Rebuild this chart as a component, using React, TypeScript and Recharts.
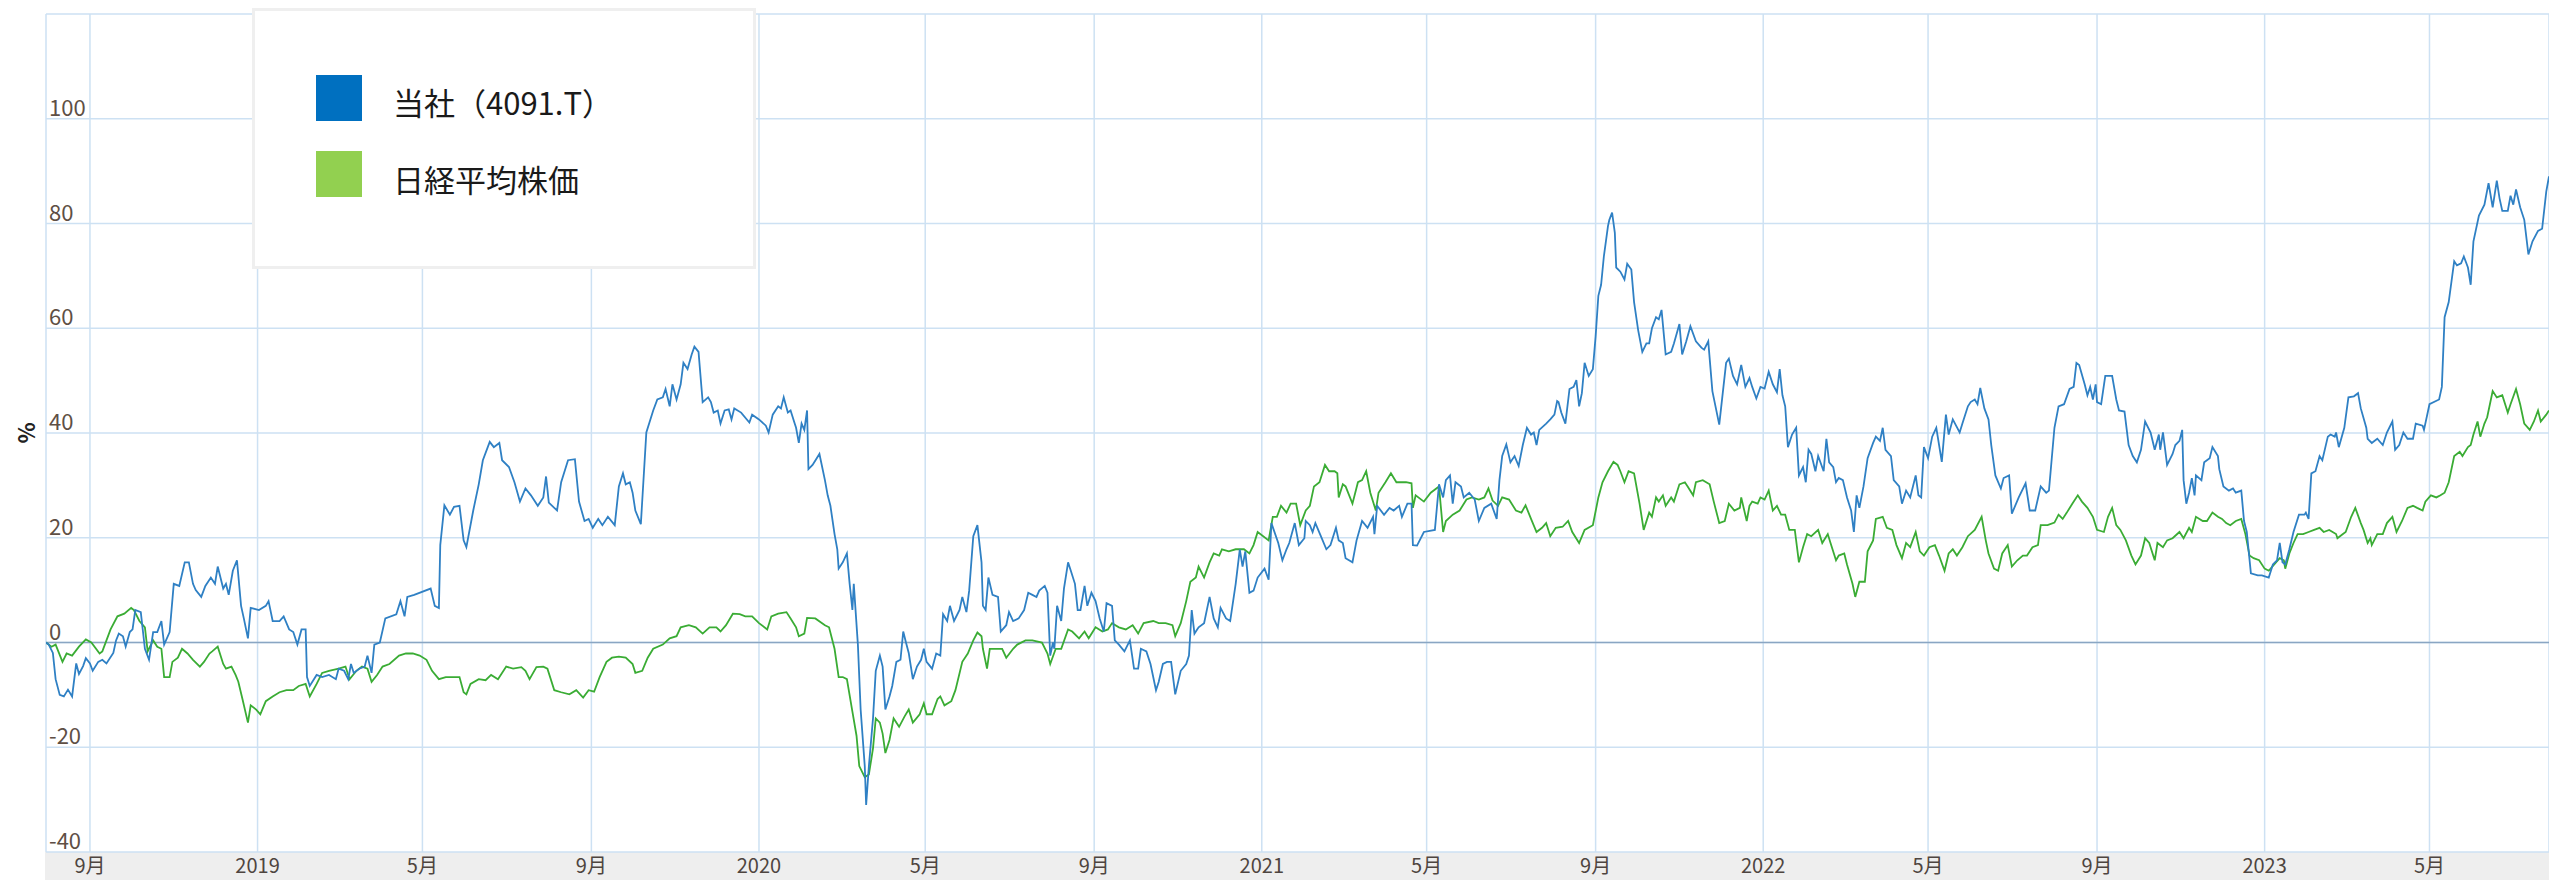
import {
  LineChart,
  Line,
  XAxis,
  YAxis,
  CartesianGrid,
  ReferenceLine,
  Legend,
} from "recharts";

// days counted from 2018-07-31, value = % change
const EPOCH = Date.UTC(2018, 6, 31);
const DAY = 86400000;
const LAST_DAY = 1822;

const company: [number, number][] = [
  [0, 0], [2, -0.4], [5, -2], [7, -7], [10, -10], [13, -10.3], [16, -9], [19, -10.3], [22, -4], [24, -6],
  [27, -4.5], [29, -3], [32, -4], [34, -5.4], [38, -3.7], [41, -3.3], [44, -4], [49, -2], [51, 0.4], [53, 1.7],
  [56, 1.2], [58, -0.8], [61, 2], [63, 2.5], [65, 6.2], [69, 5.8], [72, -1.2], [75, -3.3], [78, 2], [81, 2],
  [84, 4.1], [86, -0.4], [90, 2], [93, 11.2], [97, 10.8], [101, 15.3], [104, 15.3], [107, 11.2], [109, 10], [113, 8.7],
  [116, 10.8], [120, 12.4], [123, 11.2], [125, 14.5], [129, 10.3], [131, 11.2], [133, 9.1], [136, 13.7], [139, 15.7], [142, 7],
  [144, 4.6], [147, 0.8], [149, 6.6], [155, 6.2], [160, 7], [162, 7.9], [165, 4.1], [170, 4.1], [173, 5], [177, 2.5],
  [180, 2], [183, -0.4], [186, 2.5], [189, 2.5], [190, -6.6], [192, -8.3], [197, -6.2], [201, -6.6], [206, -6.2], [211, -7],
  [213, -5], [217, -5.4], [220, -7], [222, -4.1], [224, -5.8], [228, -5], [232, -4.6], [234, -2.5], [237, -5.8], [239, -0.4],
  [243, 0], [247, 4.6], [255, 5.4], [258, 7.9], [261, 5], [263, 8.7], [268, 9.1], [280, 10.3], [283, 7], [286, 6.6],
  [287, 18.6], [290, 26.2], [294, 24.4], [297, 25.9], [301, 26.1], [304, 19.5],
  [306, 18.2], [311, 25.2], [315, 30.2], [318, 34.8], [323, 38.3], [326, 37.3], [330, 38.1], [332, 34.8], [337, 33.5], [341, 30.6],
  [345, 26.9], [349, 29.4], [353, 28.1], [358, 26.1], [362, 27.7], [364, 31.7], [366, 26.7], [370, 25.7], [372, 25.2], [375, 30.6],
  [380, 34.8], [385, 35], [388, 26.9], [392, 23.2], [395, 23.6], [398, 21.9], [402, 23.6], [405, 22.4], [409, 24], [414, 22.4],
  [417, 29.8], [420, 32.3], [422, 30.2], [425, 30.6], [427, 28.6], [429, 25.2], [433, 22.6], [437, 40.1], [442, 44.3], [445, 46.4],
  [449, 46.8], [451, 48.4], [454, 45.1], [456, 49.3], [459, 46.4], [462, 49.3], [464, 53.4], [467, 52.2], [470, 55], [472, 56.5],
  [475, 55.5], [478, 45.9], [482, 46.8], [484, 45.9], [486, 43.9], [489, 44.3], [491, 41.8], [494, 44.3], [497, 44.5], [499, 42.6],
  [501, 44.7], [506, 43.9], [512, 42], [514, 43.5], [519, 42.6], [524, 41.4], [526, 40.1], [529, 43.5], [533, 45.1], [535, 44.7],
  [537, 46.8], [540, 43.9], [542, 44.3], [545, 41.8], [546, 41], [548, 38.1], [550, 41.8], [552, 40.6], [554, 44.3], [555, 33.1],
  [558, 33.9], [563, 36], [567, 31], [569, 28.1], [571, 26.1], [574, 20.7], [576, 17.8], [577, 14.1], [580, 15.3], [583, 17],
  [585, 11.2], [587, 6.2], [588, 11.2], [591, -0.4], [593, -12.8], [596, -23.6], [597, -31], [599, -23.6], [602, -14.5], [604, -5.4],
  [607, -2.5], [609, -4.6], [611, -12.8],
  [614, -10.3], [616, -8.3], [619, -3.7], [622, -3.3], [624, 2.1], [626, 0], [628, -2], [631, -7], [634, -4.6], [637, -3.3],
  [639, -1.2], [641, -3.7], [645, -5], [648, -2.1], [651, -2.5], [653, 5.4], [656, 4.1], [658, 7], [661, 4.1], [665, 6.2],
  [667, 8.7], [670, 5.8], [672, 9.9], [675, 20.3], [678, 22.4], [681, 15.3], [682, 7], [684, 6.2], [686, 12.4], [689, 9.1],
  [693, 8.7], [695, 2.1], [699, 3.3], [701, 5.8], [704, 4.1], [708, 4.6], [712, 6.2], [715, 9.5], [718, 9.1], [721, 8.7],
  [723, 9.9], [727, 10.8], [729, 9.5], [731, -2.5], [733, 0], [734, -1.2], [736, 7], [739, 4.1], [741, 10.3], [744, 15.3],
  [746, 13.7], [749, 11.2], [751, 6.2], [753, 6.2], [756, 10.8], [758, 7], [761, 9.5], [764, 7.9], [767, 4.6], [770, 2.1],
  [772, 7.5], [776, 7], [778, 0.4], [781, -0.4], [785, -1.7], [789, 0.4], [792, -5], [795, -5], [797, -1.2], [801, -1.7],
  [804, -4.1], [808, -9.1], [810, -7.5], [813, -4.1], [816, -3.7], [819, -3.7], [822, -9.9], [826, -5.4], [830, -4.1], [832, -2.5],
  [834, 6.2], [836, 1.7], [839, 2.9], [843, 3.7], [847, 8.7], [850, 4.6], [853, 2.9], [855, 6.6], [859, 4.6], [862, 4.1],
  [866, 11.2], [869, 17.8], [871, 14.5], [873, 17.4], [876, 9.5], [879, 9.9], [882, 12.4], [887, 14.1], [890, 12], [892, 22.8],
  [897, 19], [900, 15.7], [903, 17.8], [905, 19], [909, 22.8], [912, 18.6], [916, 19.9],
  [917, 23.2], [920, 22.4], [922, 21.1], [924, 22.8], [928, 20.3], [932, 17.8], [935, 18.6], [939, 21.9], [941, 19.5], [944, 19],
  [946, 16.1], [951, 15.3], [954, 19.5], [958, 23.2], [962, 21.9], [966, 24], [967, 20.7], [969, 26.1], [974, 24.4], [978, 25.7],
  [981, 25.2], [985, 26.1], [987, 24], [991, 26.5], [994, 26.5], [995, 18.6], [998, 18.5], [1003, 21.1], [1011, 21.5], [1014, 30.2],
  [1017, 27.7], [1019, 31], [1022, 31.9], [1024, 26.5], [1026, 30.6], [1030, 29.8], [1032, 27.7], [1036, 28.6], [1040, 27.3], [1043, 23.2],
  [1047, 25.7], [1052, 26.5], [1056, 23.6], [1058, 31], [1060, 35.6], [1063, 37.8], [1066, 34.4], [1069, 35.6], [1072, 33.7], [1075, 37.7],
  [1078, 41], [1081, 39.7], [1083, 40.1], [1085, 37.7], [1087, 40.6], [1092, 41.8], [1095, 42.6], [1098, 43.5], [1100, 46.1], [1101, 45.9],
  [1103, 43.9], [1106, 41.8], [1109, 48.4], [1112, 48.8], [1114, 50.1], [1116, 45.1], [1118, 47.6], [1120, 53.4], [1123, 50.9], [1126, 52.2],
  [1128, 58.4], [1130, 66.2], [1132, 68.3], [1134, 73.7], [1137, 79.5], [1138, 80.7], [1140, 82.1], [1142, 78.2], [1143, 71.6], [1146, 70.8],
  [1149, 69.3], [1151, 72.3], [1154, 71.2], [1156, 65], [1159, 59.6], [1162, 55.5], [1165, 57.1], [1167, 57.1], [1169, 60], [1172, 62.1],
  [1174, 61.7], [1176, 63.5], [1179, 55], [1183, 55.5], [1185, 57.1], [1189, 60.8], [1191, 55], [1194, 57.5], [1197, 60.4], [1201, 57.5],
  [1205, 56.3], [1207, 55.9], [1210, 57.5], [1213, 48], [1218, 41.6],
  [1223, 53.4], [1225, 54.2], [1228, 50.9], [1231, 49.3], [1234, 53], [1237, 48.8], [1240, 50.5], [1242, 48.8], [1245, 46.6], [1248, 48.8],
  [1251, 48.5], [1254, 51.7], [1257, 49.3], [1260, 47.8], [1262, 52.2], [1264, 47.2], [1266, 45.1], [1268, 37.3], [1271, 39.7], [1274, 41],
  [1276, 31.9], [1279, 33.5], [1281, 30.6], [1283, 36.8], [1285, 36], [1288, 32.7], [1290, 35.6], [1294, 32.7], [1296, 38.9], [1298, 34.4],
  [1301, 33.5], [1303, 30.6], [1305, 31.4], [1308, 31], [1311, 27.7], [1314, 25.2], [1316, 21.1], [1318, 28.1], [1320, 25.7], [1323, 29.8],
  [1326, 35.2], [1330, 38.1], [1332, 39.3], [1335, 38.5], [1337, 41], [1339, 36.8], [1343, 35.6], [1345, 31], [1349, 29.8], [1351, 26.5],
  [1354, 29], [1357, 27.7], [1361, 31.9], [1363, 28.1], [1365, 27.7], [1367, 37.3], [1370, 35.2], [1373, 39.3], [1376, 41], [1380, 34.5],
  [1383, 43.5], [1385, 39.7], [1388, 42.6], [1393, 40.1], [1395, 41.8], [1399, 45.1], [1401, 45.9], [1404, 46.4], [1406, 45.5], [1408, 48.6],
  [1411, 44.7], [1414, 42.6], [1416, 37.7], [1419, 31.9], [1423, 29.4], [1425, 31.4], [1429, 31.9], [1431, 24.6], [1436, 27.7], [1441, 30.4],
  [1444, 25.2], [1448, 25.2], [1452, 29.8], [1456, 28.6], [1458, 29], [1462, 41], [1465, 45.1], [1469, 45.5], [1473, 48.4], [1476, 48.8],
  [1478, 53.4], [1480, 53], [1484, 49.3], [1486, 47.2], [1488, 48.8], [1490, 46.4], [1492, 49.3], [1493, 45.9], [1496, 45.5], [1499, 50.9],
  [1504, 50.9], [1507, 46.4], [1509, 44.3], [1513, 44.1], [1516, 37.7], [1519, 35.6], [1522, 34.4], [1525, 36.8], [1528, 42.2],
  [1532, 40.1], [1535, 36.8], [1538, 39.7], [1539, 36.8], [1541, 40.1], [1544, 33.9], [1548, 36], [1550, 37.7], [1553, 38.5], [1555, 40.6],
  [1556, 31], [1558, 26.5], [1560, 28.6], [1562, 31.4], [1564, 28.1], [1565, 31.9], [1569, 31], [1571, 34.4], [1575, 35.2], [1577, 37.3],
  [1581, 35.6], [1582, 33.1], [1585, 29.8], [1589, 29], [1592, 29.4], [1594, 28.6], [1598, 29], [1600, 23.2], [1602, 21.1], [1605, 13.2],
  [1610, 12.8], [1613, 12.8], [1618, 12.4], [1621, 14.9], [1624, 15.7], [1626, 19], [1628, 15.3], [1630, 14.9], [1633, 17.8], [1636, 21.1],
  [1640, 24.4], [1644, 24.4], [1645, 24.8], [1647, 23.6], [1649, 32.3], [1652, 32.7], [1655, 35.6], [1657, 34.8], [1661, 39.3], [1663, 39.7],
  [1666, 39.3], [1667, 40.1], [1669, 37.3], [1673, 41], [1676, 46.8], [1680, 47], [1683, 47.6], [1685, 44.7], [1689, 41], [1690, 38.9],
  [1693, 38.1], [1697, 38.9], [1701, 37.7], [1704, 40.1], [1708, 42.2], [1710, 36.8], [1713, 37.7], [1716, 40.1], [1719, 38.9], [1723, 38.9],
  [1725, 41.8], [1730, 41.4], [1731, 40.6], [1735, 45.5], [1742, 46.4], [1744, 48.8], [1746, 62.1], [1749, 65], [1753, 72.8], [1755, 72],
  [1758, 72.4], [1760, 73.7], [1763, 71.6], [1765, 68.3], [1767, 76.6], [1771, 81.5], [1775, 83.6], [1778, 87.7], [1781, 83.1], [1784, 88.2],
  [1786, 84.8], [1788, 82.4], [1792, 82.4], [1794, 85.3], [1796, 83.6], [1798, 86.5], [1801, 83.1], [1804, 80.7], [1807, 74.1], [1810, 76.6],
  [1814, 78.6], [1817, 79], [1820, 86.1], [1822, 89],
];

const nikkei: [number, number][] = [
  [0, 0], [4, -0.8], [7, -0.4], [12, -3.7], [15, -2.1], [19, -2.5], [24, -0.8], [29, 0.6], [33, 0], [39, -2.1],
  [41, -1.7], [44, 0.4], [47, 2.5], [52, 5], [57, 5.5], [62, 6.6], [64, 6.2], [68, 4.1], [72, 2.9], [74, -1.7],
  [78, 0.4], [81, -0.8], [84, -1.2], [86, -6.6], [90, -6.6], [92, -3.7], [96, -2.9], [99, -1.2], [103, -2.1], [107, -3.3],
  [112, -4.6], [115, -3.7], [119, -2.1], [121, -1.7], [125, -0.8], [129, -4.1], [131, -5], [135, -4.6], [138, -6.2], [140, -7.5],
  [143, -10.8], [147, -15.3], [149, -12], [153, -12.8], [156, -13.7], [160, -11.2], [165, -10.3], [170, -9.5], [175, -9.1], [180, -9.1],
  [184, -8.3], [189, -7.9], [192, -10.3], [197, -7.9], [201, -5.8], [206, -5.4], [213, -5], [218, -4.6], [221, -7], [226, -5.4],
  [230, -4.6], [234, -5], [237, -7.5], [241, -6.2], [245, -4.6], [250, -4.1], [257, -2.5], [262, -2.1], [267, -2.1], [272, -2.5],
  [277, -3.3], [281, -5.4], [286, -7], [291, -6.6], [296, -6.6], [301, -6.6], [304, -9.5],
  [306, -9.9], [309, -7.9], [315, -7], [320, -7.2], [324, -6.2], [329, -7], [335, -4.6], [340, -5], [346, -4.7], [349, -5.4],
  [352, -7], [357, -4.7], [362, -4.6], [365, -5], [370, -9.1], [375, -9.5], [381, -9.9], [386, -9.1], [391, -10.5], [395, -9.1],
  [399, -9.4], [403, -6.6], [408, -3.7], [412, -2.9], [417, -2.7], [422, -2.9], [427, -4.1], [429, -5.8], [434, -5.4], [438, -2.9],
  [442, -1.2], [449, -0.4], [454, 0.8], [459, 1.2], [462, 2.9], [468, 3.3], [473, 2.9], [478, 1.7], [483, 2.9], [488, 2.9],
  [491, 2.1], [495, 3.3], [500, 5.5], [505, 5.4], [509, 5], [514, 5], [519, 3.7], [525, 2.5], [528, 5], [533, 5.5],
  [539, 5.8], [542, 4.6], [546, 2.9], [548, 1.2], [552, 1.7], [554, 4.7], [560, 4.6], [567, 3.3], [570, 2.9], [574, -1.2],
  [577, -6.6], [580, -6.6], [583, -7], [587, -13.2], [590, -17.8], [592, -23.6], [596, -25.7], [599, -25.2], [602, -20.2], [604, -14.5],
  [607, -15.3], [609, -17.4], [611, -21.1],
  [614, -18.6], [617, -14.5], [621, -16.1], [625, -14.1], [628, -12.8], [631, -15.3], [636, -13.7], [639, -11.6], [641, -13.7], [645, -13.7],
  [649, -10.8], [651, -10.3], [654, -12], [659, -11.2], [662, -9.1], [667, -3.7], [671, -2.1], [675, 0.4], [678, 1.9], [681, 1.2],
  [682, -1.2], [685, -5], [687, -1.2], [691, -1.2], [696, -1.2], [699, -2.9], [704, -1.2], [707, -0.4], [713, 0.4], [718, 0.4],
  [725, 0], [729, -2.1], [731, -4.1], [735, -1.2], [739, -1.2], [744, 2.5], [747, 2.1], [752, 0.8], [756, 2.1], [759, 0.8],
  [764, 2.9], [769, 2.1], [773, 2.5], [776, 3.7], [781, 2.9], [786, 2.5], [791, 3.3], [795, 1.7], [799, 3.7], [806, 4.1],
  [810, 3.7], [815, 3.7], [820, 3.3], [822, 1.2], [826, 3.7], [830, 7.9], [833, 11.6], [837, 12.4], [839, 14.5], [843, 12.4],
  [847, 15.3], [850, 17], [854, 16.6], [856, 17.8], [861, 17.4], [866, 17.8], [872, 17.8], [876, 17], [879, 18.6], [882, 21.1],
  [890, 19.5], [893, 24], [896, 24], [899, 26.1], [903, 24.8], [906, 26.5], [910, 26.5], [913, 22.4], [917, 25.2],
  [920, 26.1], [923, 29.8], [927, 30.6], [931, 33.9], [934, 32.7], [938, 32.7], [940, 32.3], [941, 27.7], [944, 30.2], [946, 29.8],
  [951, 26.5], [955, 30.6], [958, 31], [961, 32.7], [964, 28.6], [968, 25.2], [970, 28.6], [975, 30.6], [979, 32.3], [983, 30.6],
  [986, 30.6], [990, 30.6], [994, 30.4], [995, 25.7], [997, 28.1], [1003, 26.9], [1008, 28.6], [1014, 29.8], [1017, 21.1], [1019, 23.2],
  [1024, 24.4], [1029, 25.2], [1034, 27.3], [1038, 27.7], [1043, 27.3], [1047, 27.7], [1050, 29.4], [1053, 27.1], [1057, 26.1], [1060, 27.7],
  [1065, 27.3], [1070, 25.2], [1074, 24.8], [1077, 26.2], [1081, 23.6], [1085, 21.1], [1089, 21.9], [1092, 22.8], [1095, 20.3], [1099, 21.9],
  [1104, 22.1], [1108, 23.2], [1111, 21.1], [1116, 19], [1120, 21.5], [1126, 22.4], [1130, 27.7], [1133, 30.6], [1137, 32.7], [1141, 34.5],
  [1144, 33.9], [1146, 32.7], [1149, 30.6], [1152, 32.7], [1156, 32.3], [1160, 26.5], [1163, 21.5], [1167, 24.8], [1169, 24], [1172, 27.7],
  [1174, 26.9], [1177, 28.1], [1179, 26.1], [1183, 27.7], [1185, 26.9], [1189, 30.2], [1193, 30.6], [1195, 29.8], [1199, 28.1], [1201, 30.6],
  [1206, 31], [1211, 30.2], [1214, 26.9], [1218, 22.8], [1222, 23.2],
  [1225, 26.5], [1229, 25.2], [1233, 25.7], [1234, 27.7], [1238, 23.2], [1240, 26.1], [1242, 26.9], [1246, 26.5], [1248, 27.7], [1251, 27.3],
  [1254, 29], [1257, 25.2], [1260, 26.1], [1263, 24.4], [1266, 24.4], [1269, 21.5], [1273, 21.5], [1276, 15.3], [1279, 18.2], [1282, 20.7],
  [1285, 20.3], [1290, 21.5], [1293, 19], [1297, 20.7], [1299, 19], [1303, 15.7], [1305, 16.6], [1309, 17], [1311, 14.9], [1315, 11.2],
  [1317, 8.7], [1320, 11.6], [1324, 11.6], [1326, 17.4], [1330, 19.5], [1332, 23.6], [1337, 24], [1340, 21.9], [1344, 21.5], [1347, 18.6],
  [1351, 16.1], [1354, 19], [1357, 18.2], [1361, 21.1], [1364, 17.4], [1367, 16.6], [1371, 18.2], [1375, 18.6], [1378, 16.6], [1382, 13.7],
  [1385, 17], [1388, 17.8], [1391, 16.6], [1395, 18.2], [1399, 20.3], [1404, 21.5], [1409, 24], [1412, 19.5], [1414, 17], [1418, 14.1],
  [1421, 13.7], [1424, 17], [1428, 18.6], [1431, 14.5], [1435, 15.7], [1439, 16.6], [1442, 16.6], [1446, 18.2], [1450, 18.6], [1452, 22.4],
  [1457, 22.4], [1462, 22.9], [1465, 24.4], [1468, 23.6], [1471, 24.8], [1475, 26.5], [1479, 28.1], [1482, 26.9], [1486, 25.7], [1490, 24],
  [1493, 21.5], [1498, 21.1], [1501, 24], [1504, 25.7], [1507, 22.4], [1510, 21.5], [1514, 19.5], [1518, 16.6], [1521, 14.9], [1525, 16.6],
  [1528, 19.9],
  [1531, 19], [1535, 15.7], [1537, 19], [1541, 18.2], [1544, 19.5], [1548, 19.9], [1553, 21.1], [1556, 19.9], [1560, 21.9], [1562, 21.1],
  [1565, 24], [1570, 23.2], [1573, 23.2], [1577, 24.8], [1581, 24], [1584, 23.6], [1587, 22.8], [1590, 22.4], [1594, 23.2], [1598, 23.6],
  [1601, 20.7], [1604, 16.6], [1607, 16.1], [1611, 15.7], [1615, 14.1], [1618, 13.7], [1622, 14.9], [1626, 16.1], [1629, 15.7], [1630, 14.1],
  [1633, 17], [1636, 19], [1639, 20.7], [1643, 20.7], [1647, 21.1], [1651, 21.5], [1655, 21.9], [1658, 21.1], [1662, 21.5], [1667, 20.7],
  [1668, 19.9], [1672, 20.7], [1674, 21.1], [1678, 24], [1681, 25.7], [1685, 22.8], [1687, 21.5], [1690, 19], [1692, 19.9], [1693, 18.6],
  [1697, 20.7], [1701, 20.7], [1704, 22.8], [1708, 24], [1711, 21.1], [1715, 23.2], [1719, 25.7], [1723, 26.1], [1726, 25.7], [1730, 25.2],
  [1732, 26.9], [1736, 28.1], [1740, 27.7], [1743, 28.1], [1746, 28.6], [1749, 30.6], [1753, 35.6], [1757, 36.4], [1759, 35.6], [1763, 37.3],
  [1765, 37.7], [1767, 39.7], [1770, 42.2], [1772, 39.3], [1775, 41.8], [1777, 43], [1781, 48], [1784, 46.8], [1788, 47.2], [1792, 43.9],
  [1794, 45.5], [1798, 48.4], [1801, 45.5], [1804, 41.8], [1808, 40.6], [1811, 42.2], [1814, 44.3], [1816, 42.2], [1820, 43.5], [1822, 44.3],
];

const monthTicks = [
  "2018-09-01", "2019-01-01", "2019-05-01", "2019-09-01", "2020-01-01", "2020-05-01", "2020-09-01", "2021-01-01",
  "2021-05-01", "2021-09-01", "2022-01-01", "2022-05-01", "2022-09-01", "2023-01-01", "2023-05-01",
];
const yTicks = [-40, -20, 0, 20, 40, 60, 80, 100, 120];

const legendItems = [
  { name: "当社（4091.T）", color: "#0070c0" },
  { name: "日経平均株価", color: "#92d050" },
];

const toPoints = (rows: [number, number][]) => rows.map(([d, v]) => ({ t: EPOCH + d * DAY, v }));
const companyData = toPoints(company);
const nikkeiData = toPoints(nikkei);

const tickTimes = monthTicks.map((s) => Date.parse(s + "T00:00:00Z"));
const xTicks = [EPOCH, ...tickTimes];

const FONT = '"Noto Sans CJK JP", "Noto Sans", sans-serif';

const XTick = (props: any) => {
  const { x, payload } = props;
  if (payload.value === EPOCH) return <g />;
  const d = new Date(payload.value);
  const m = d.getUTCMonth() + 1;
  const label = m === 1 ? String(d.getUTCFullYear()) : `${m}月`;
  return (
    <text x={x} y={873} textAnchor="middle" fontSize={20} fill="#4e4540" fontFamily={FONT}>
      {label}
    </text>
  );
};

const YTick = (props: any) => {
  const { y, payload } = props;
  if (payload.value === 120) return <g />;
  return (
    <text x={49} y={y - 3} textAnchor="start" fontSize={22} fill="#5e4f45" fontFamily={FONT}>
      {payload.value}
    </text>
  );
};

const PercentLabel = () => (
  <text
    x={25}
    y={433}
    transform="rotate(-90 25 433)"
    textAnchor="middle"
    dominantBaseline="central"
    fontSize={22}
    fontWeight="bold"
    fill="#222"
    fontFamily={FONT}
  >
    %
  </text>
);

const LegendBox = () => (
  <div
    style={{
      width: 504,
      height: 261,
      boxSizing: "border-box",
      border: "3px solid #efefef",
      background: "#fff",
    }}
  >
    <svg width={498} height={255} style={{ display: "block" }}>
      {legendItems.map((item, i) => (
        <g key={item.name}>
          <rect x={61} y={64 + i * 76} width={46} height={46} fill={item.color} />
          <text x={138} y={103.5 + i * 77.5} fontSize={31} fill="#1a1a1a" fontFamily={FONT}>
            {item.name}
          </text>
        </g>
      ))}
    </svg>
  </div>
);

export default function App() {
  return (
    <div style={{ position: "absolute", left: 0, top: 0, width: 2549, height: 880, background: "#fff" }}>
      <div style={{ position: "absolute", left: 45, top: 852, width: 2504, height: 28, background: "#eeeeee" }} />
      <div style={{ position: "absolute", left: 0, top: 0 }}>
        <LineChart width={2549} height={880} margin={{ top: 14, right: 0, bottom: 0, left: 0 }}>
          <CartesianGrid stroke="#cde1f3" strokeWidth={1.5} />
          <XAxis
            type="number"
            dataKey="t"
            domain={[EPOCH, EPOCH + LAST_DAY * DAY]}
            ticks={xTicks}
            interval={0}
            allowDataOverflow
            axisLine={false}
            tickLine={false}
            height={28}
            tick={<XTick />}
          />
          <YAxis
            type="number"
            domain={[-40, 120]}
            ticks={yTicks}
            interval={0}
            allowDataOverflow
            axisLine={false}
            tickLine={false}
            width={46}
            tick={<YTick />}
            label={<PercentLabel />}
          />
          <ReferenceLine y={0} stroke="#8aa6c3" strokeWidth={1.5} />
          <Line
            data={nikkeiData}
            dataKey="v"
            type="linear"
            stroke="#3aac34"
            strokeWidth={1.8}
            dot={false}
            activeDot={false}
            isAnimationActive={false}
          />
          <Line
            data={companyData}
            dataKey="v"
            type="linear"
            stroke="#2f80c4"
            strokeWidth={1.8}
            dot={false}
            activeDot={false}
            isAnimationActive={false}
          />
          <Legend
            layout="horizontal"
            verticalAlign="middle"
            align="center"
            content={<LegendBox />}
            wrapperStyle={{ left: 252, top: 8, width: 504, height: 261 }}
          />
        </LineChart>
      </div>
    </div>
  );
}
